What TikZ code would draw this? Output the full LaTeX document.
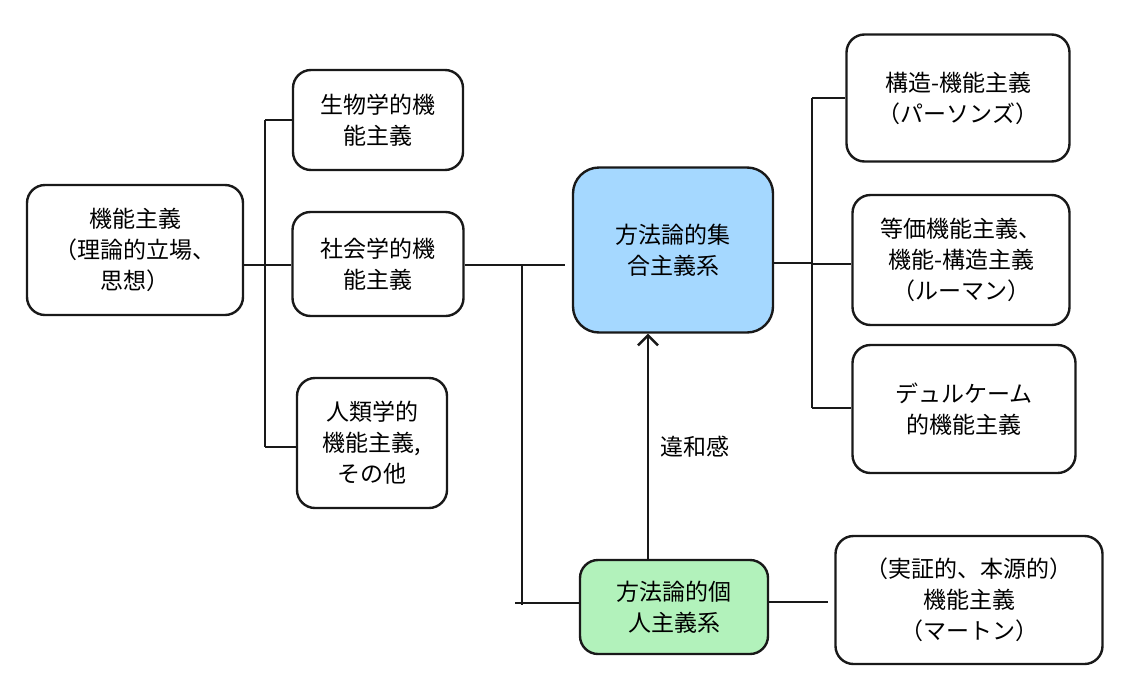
\documentclass[tikz,border=0pt]{standalone}
\usepackage{fontspec}
\setmainfont{Noto Sans CJK JP}
\usetikzlibrary{arrows.meta}
\begin{document}
\begin{tikzpicture}[x=1pt,y=-1pt,line width=2.4pt,
 box/.style={draw=black!90,rounded corners=18pt,align=center,inner sep=0pt,font=\fontsize{23}{31}\selectfont},
 ln/.style={draw=black!90,line width=2.4pt}]
\useasboundingbox (0,0) rectangle (1137,683);
\node[box,minimum width=216pt,minimum height=130pt] (A) at (135,250) {機能主義\\（理論的立場、\\思想）};
\node[box,minimum width=170pt,minimum height=100pt] (B1) at (378,120) {生物学的機\\能主義};
\node[box,minimum width=171pt,minimum height=104pt] (B2) at (378,264) {社会学的機\\能主義};
\node[box,minimum width=150pt,minimum height=130pt] (B3) at (372,443) {人類学的\\機能主義,\\その他};
\node[box,fill={rgb,255:red,165;green,216;blue,255},minimum width=200pt,minimum height=165pt,rounded corners=26pt] (C) at (673,250) {方法論的集\\合主義系};
\node[box,fill={rgb,255:red,178;green,242;blue,187},minimum width=188pt,minimum height=94pt] (D) at (674,607) {方法論的個\\人主義系};
\node[box,minimum width=223pt,minimum height=127pt] (R1) at (958,98) {構造-機能主義\\（パーソンズ）};
\node[box,minimum width=217pt,minimum height=130pt] (R2) at (961,260) {等価機能主義、\\機能-構造主義\\（ルーマン）};
\node[box,minimum width=223pt,minimum height=128pt] (R3) at (964,409) {デュルケーム\\的機能主義};
\node[box,minimum width=267pt,minimum height=128pt] (R4) at (969,600) {（実証的、本源的）\\機能主義\\（マートン）};
\coordinate (ja) at (265,265);
\coordinate (jc) at (812,263);
\coordinate (jd) at (522,265);
\draw[ln] (A.east|-ja) -- (ja);
\draw[ln] (265,120) -- (265,447);
\draw[ln] (265,120) -- (B1.west|-{(0,120)});
\draw[ln] (ja) -- (B2.west|-ja);
\draw[ln] (265,447) -- (B3.west|-{(0,447)});
\draw[ln] (B2.east|-jd) -- (565,265);
\draw[ln] (jd) -- (522,605);
\draw[ln] (515,603) -- (D.west|-{(0,603)});
\draw[ln] (C.east|-jc) -- (jc);
\draw[ln] (812,98) -- (812,408);
\draw[ln] (812,98) -- (R1.west|-{(0,98)});
\draw[ln] (812,264) -- (R2.west|-{(0,264)});
\draw[ln] (812,408) -- (R3.west|-{(0,408)});
\draw[ln] (D.east|-{(0,602)}) -- (828,602);
\draw[ln,-{Straight Barb[length=10pt,width=20pt]}] (D.north-|{(648,0)}) -- (C.south-|{(648,0)}) node[midway,right=8pt,font=\fontsize{23}{31}\selectfont]{違和感};
\end{tikzpicture}
\end{document}
